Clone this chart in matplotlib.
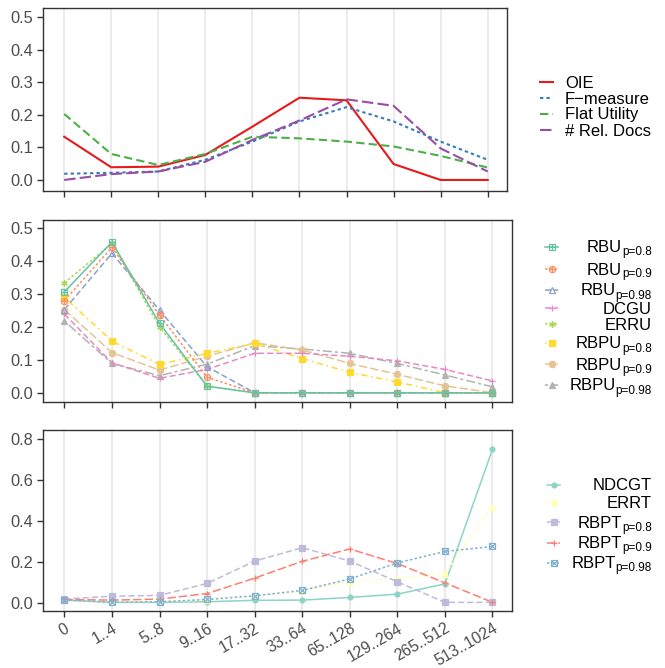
import matplotlib
matplotlib.use("Agg")
import matplotlib.pyplot as plt
from matplotlib.lines import Line2D

plt.rcParams['font.family'] = ['Liberation Sans', 'DejaVu Sans']

bins = ['0', '1..4', '5..8', '9..16', '17..32', '33..64', '65..128',
        '129..264', '265..512', '513..1024']

# top panel
oie = [0.133, 0.039, 0.041, 0.077, 0.164, 0.253, 0.245, 0.049, 0.0, 0.0]
fmeasure = [0.019, 0.022, 0.026, 0.062, 0.118, 0.180, 0.224, 0.180, 0.118, 0.062]
flat_util = [0.203, 0.080, 0.046, 0.080, 0.133, 0.128, 0.118, 0.103, 0.074, 0.038]
rel_docs = [0.0, 0.018, 0.026, 0.056, 0.123, 0.183, 0.248, 0.228, 0.097, 0.026]

# middle panel
rbu_08 = [0.307, 0.458, 0.211, 0.020, 0, 0, 0, 0, 0, 0]
rbu_09 = [0.280, 0.442, 0.236, 0.047, 0, 0, 0, 0, 0, 0]
rbu_098 = [0.253, 0.424, 0.251, 0.079, 0, 0, 0, 0, 0, 0]
dcgu = [0.239, 0.091, 0.044, 0.071, 0.120, 0.120, 0.111, 0.097, 0.071, 0.036]
erru = [0.334, 0.454, 0.200, 0.020, 0, 0, 0, 0, 0, 0]
rbpu_08 = [0.290, 0.157, 0.086, 0.120, 0.150, 0.104, 0.062, 0.033, 0.0, 0.0]
rbpu_09 = [0.253, 0.122, 0.069, 0.111, 0.152, 0.130, 0.089, 0.056, 0.021, 0.0]
rbpu_098 = [0.218, 0.089, 0.052, 0.087, 0.143, 0.133, 0.120, 0.089, 0.054, 0.018]

# bottom panel
ndcgt = [0.016, 0.005, 0.005, 0.008, 0.015, 0.016, 0.029, 0.045, 0.095, 0.750]
errt = [0.016, 0.008, 0.008, 0.016, 0.035, 0.061, 0.105, 0.121, 0.145, 0.471]
rbpt_08 = [0.021, 0.035, 0.039, 0.097, 0.206, 0.271, 0.206, 0.105, 0.005, 0.005]
rbpt_09 = [0.019, 0.016, 0.021, 0.048, 0.123, 0.205, 0.265, 0.194, 0.100, 0.005]
rbpt_098 = [0.016, 0.006, 0.008, 0.019, 0.037, 0.063, 0.119, 0.197, 0.253, 0.277]

DASHED = (0, (4, 2))
DOTTED = (0, (1.6, 1.5))
DOTDASH = (0, (1, 2.5, 4, 2.5))
LONGDASH = (0, (5.5, 2))
TWODASH = (0, (2, 2, 6, 2))

W, H = 665, 668
FS = 12
fig = plt.figure(figsize=(6.65, 6.68), dpi=100)
renderer = fig.canvas.get_renderer()

def panel(top, bottom, right):
    return fig.add_axes([43 / W, 1 - bottom / H, (right - 43) / W, (bottom - top) / H])

def style(ax, ylim, yticks, show_x):
    x = list(range(len(bins)))
    ax.set_xlim(-0.45, 9.41)
    ax.set_ylim(*ylim)
    ax.set_yticks(yticks)
    ax.set_yticklabels(['%.1f' % v for v in yticks])
    ax.set_xticks(x)
    for xv in x:
        ax.axvline(xv, color='#EBEBEB', lw=1.4, zorder=0)
    if show_x:
        ax.set_xticklabels(bins, rotation=30, ha='right', rotation_mode='anchor',
                           fontsize=11.3)
    else:
        ax.set_xticklabels([])
    for s in ax.spines.values():
        s.set_color('#333333')
        s.set_linewidth(1.0)
    ax.tick_params(axis='y', labelsize=11.8)
    ax.tick_params(colors='#333333', labelcolor='#4D4D4D',
                   length=4, width=1.0, pad=3)

def series(ax, y, color, ls, markers=(), ms=4.5, lw=1.1):
    x = list(range(len(y)))
    ax.plot(x, y, color=color, ls=ls, lw=lw, zorder=3)
    for m, filled in markers:
        ax.plot(x, y, ls='none', marker=m, ms=ms, color=color,
                mfc=color if filled else 'none', mew=0.9, zorder=4)

def legend_key(pix_y, color, ls, markers, x0, x1, ms=4.5, lw=1.1):
    yf = 1 - pix_y / H
    fig.add_artist(Line2D([x0 / W, x1 / W], [yf, yf], color=color, ls=ls, lw=lw,
                          transform=fig.transFigure))
    for m, filled in markers:
        fig.add_artist(Line2D([(x0 + x1) / 2 / W], [yf], ls='none', marker=m, ms=ms,
                              color=color, mfc=color if filled else 'none', mew=0.9,
                              transform=fig.transFigure))

def legend_label(pix_y, main, sub, tx=652):
    # right aligned label, optional subscript drawn as a smaller text
    base = pix_y + 5.5
    right = tx
    if sub:
        s = fig.text(tx / W, 1 - (base + 3) / H, sub, ha='right', va='baseline',
                     fontsize=8.5, color='black')
        right = tx - s.get_window_extent(renderer).width
    fig.text(right / W, 1 - base / H, main, ha='right', va='baseline',
             fontsize=FS, color='black')

# ---- top
ax1 = panel(8, 191, 507)
series(ax1, oie, '#E41A1C', '-', lw=1.5)
series(ax1, fmeasure, '#377EB8', DOTTED, lw=1.5)
series(ax1, flat_util, '#4DAF4A', DASHED, lw=1.5)
series(ax1, rel_docs, '#984EA3', LONGDASH, lw=1.5)
style(ax1, (-0.034, 0.529), [0, 0.1, 0.2, 0.3, 0.4, 0.5], False)

top_leg = [('OIE', '#E41A1C', '-'), ('F\u2212measure', '#377EB8', DOTTED),
           ('Flat Utility', '#4DAF4A', DASHED), ('# Rel. Docs', '#984EA3', LONGDASH)]
for i, (t, c, ls) in enumerate(top_leg):
    r = 82 + i * 16
    legend_key(r, c, ls, (), 540, 553, lw=1.5)
    fig.text(565 / W, 1 - (r + 5.5) / H, t, ha='left', va='baseline', fontsize=FS)

# ---- middle
ax2 = panel(220, 402, 512)
mid = [
    (rbu_08, '#66C2A5', '-', [('s', False), ('+', False)], 'RBU', 'p=0.8'),
    (rbu_09, '#FC8D62', DOTTED, [('o', False), ('+', False)], 'RBU', 'p=0.9'),
    (rbu_098, '#8DA0CB', DASHED, [('^', False)], 'RBU', 'p=0.98'),
    (dcgu, '#E78AC3', DASHED, [('+', False)], 'DCGU', None),
    (erru, '#A6D854', DOTTED, [((6, 2, 0), False)], 'ERRU', None),
    (rbpu_08, '#FFD92F', DOTDASH, [('s', True)], 'RBPU', 'p=0.8'),
    (rbpu_09, '#E5C494', LONGDASH, [('o', True)], 'RBPU', 'p=0.9'),
    (rbpu_098, '#B3B3B3', TWODASH, [('^', True)], 'RBPU', 'p=0.98'),
]
for y, c, ls, mk, lab, sub in reversed(mid):
    series(ax2, y, c, ls, mk)
style(ax2, (-0.028, 0.525), [0, 0.1, 0.2, 0.3, 0.4, 0.5], False)
mid_rows = [247, 269, 290, 308, 324, 343, 364, 385]
for (y, c, ls, mk, lab, sub), r in zip(mid, mid_rows):
    legend_key(r, c, ls, mk, 545, 558)
    legend_label(r, lab, sub)

# ---- bottom
ax3 = panel(430, 611, 512)
bot = [
    (ndcgt, '#8DD3C7', '-', [('o', True)], 'NDCGT', None, 3.5),
    (errt, '#FFFFB3', DOTTED, [('^', True)], 'ERRT', None, 4),
    (rbpt_08, '#BEBADA', DASHED, [('s', True)], 'RBPT', 'p=0.8', 4),
    (rbpt_09, '#FB8072', LONGDASH, [('+', False)], 'RBPT', 'p=0.9', 5),
    (rbpt_098, '#80B1D3', DOTTED, [('s', False), ('x', False)], 'RBPT', 'p=0.98', 4),
]
for y, c, ls, mk, lab, sub, ms in bot:
    series(ax3, y, c, ls, mk, ms=ms)
style(ax3, (-0.037, 0.844), [0, 0.2, 0.4, 0.6, 0.8], True)
bot_rows = [485, 502, 522, 543, 563]
for (y, c, ls, mk, lab, sub, ms), r in zip(bot, bot_rows):
    legend_key(r, c, ls, mk, 547, 560, ms=ms)
    legend_label(r, lab, sub)

fig.savefig('out.png', dpi=100)
